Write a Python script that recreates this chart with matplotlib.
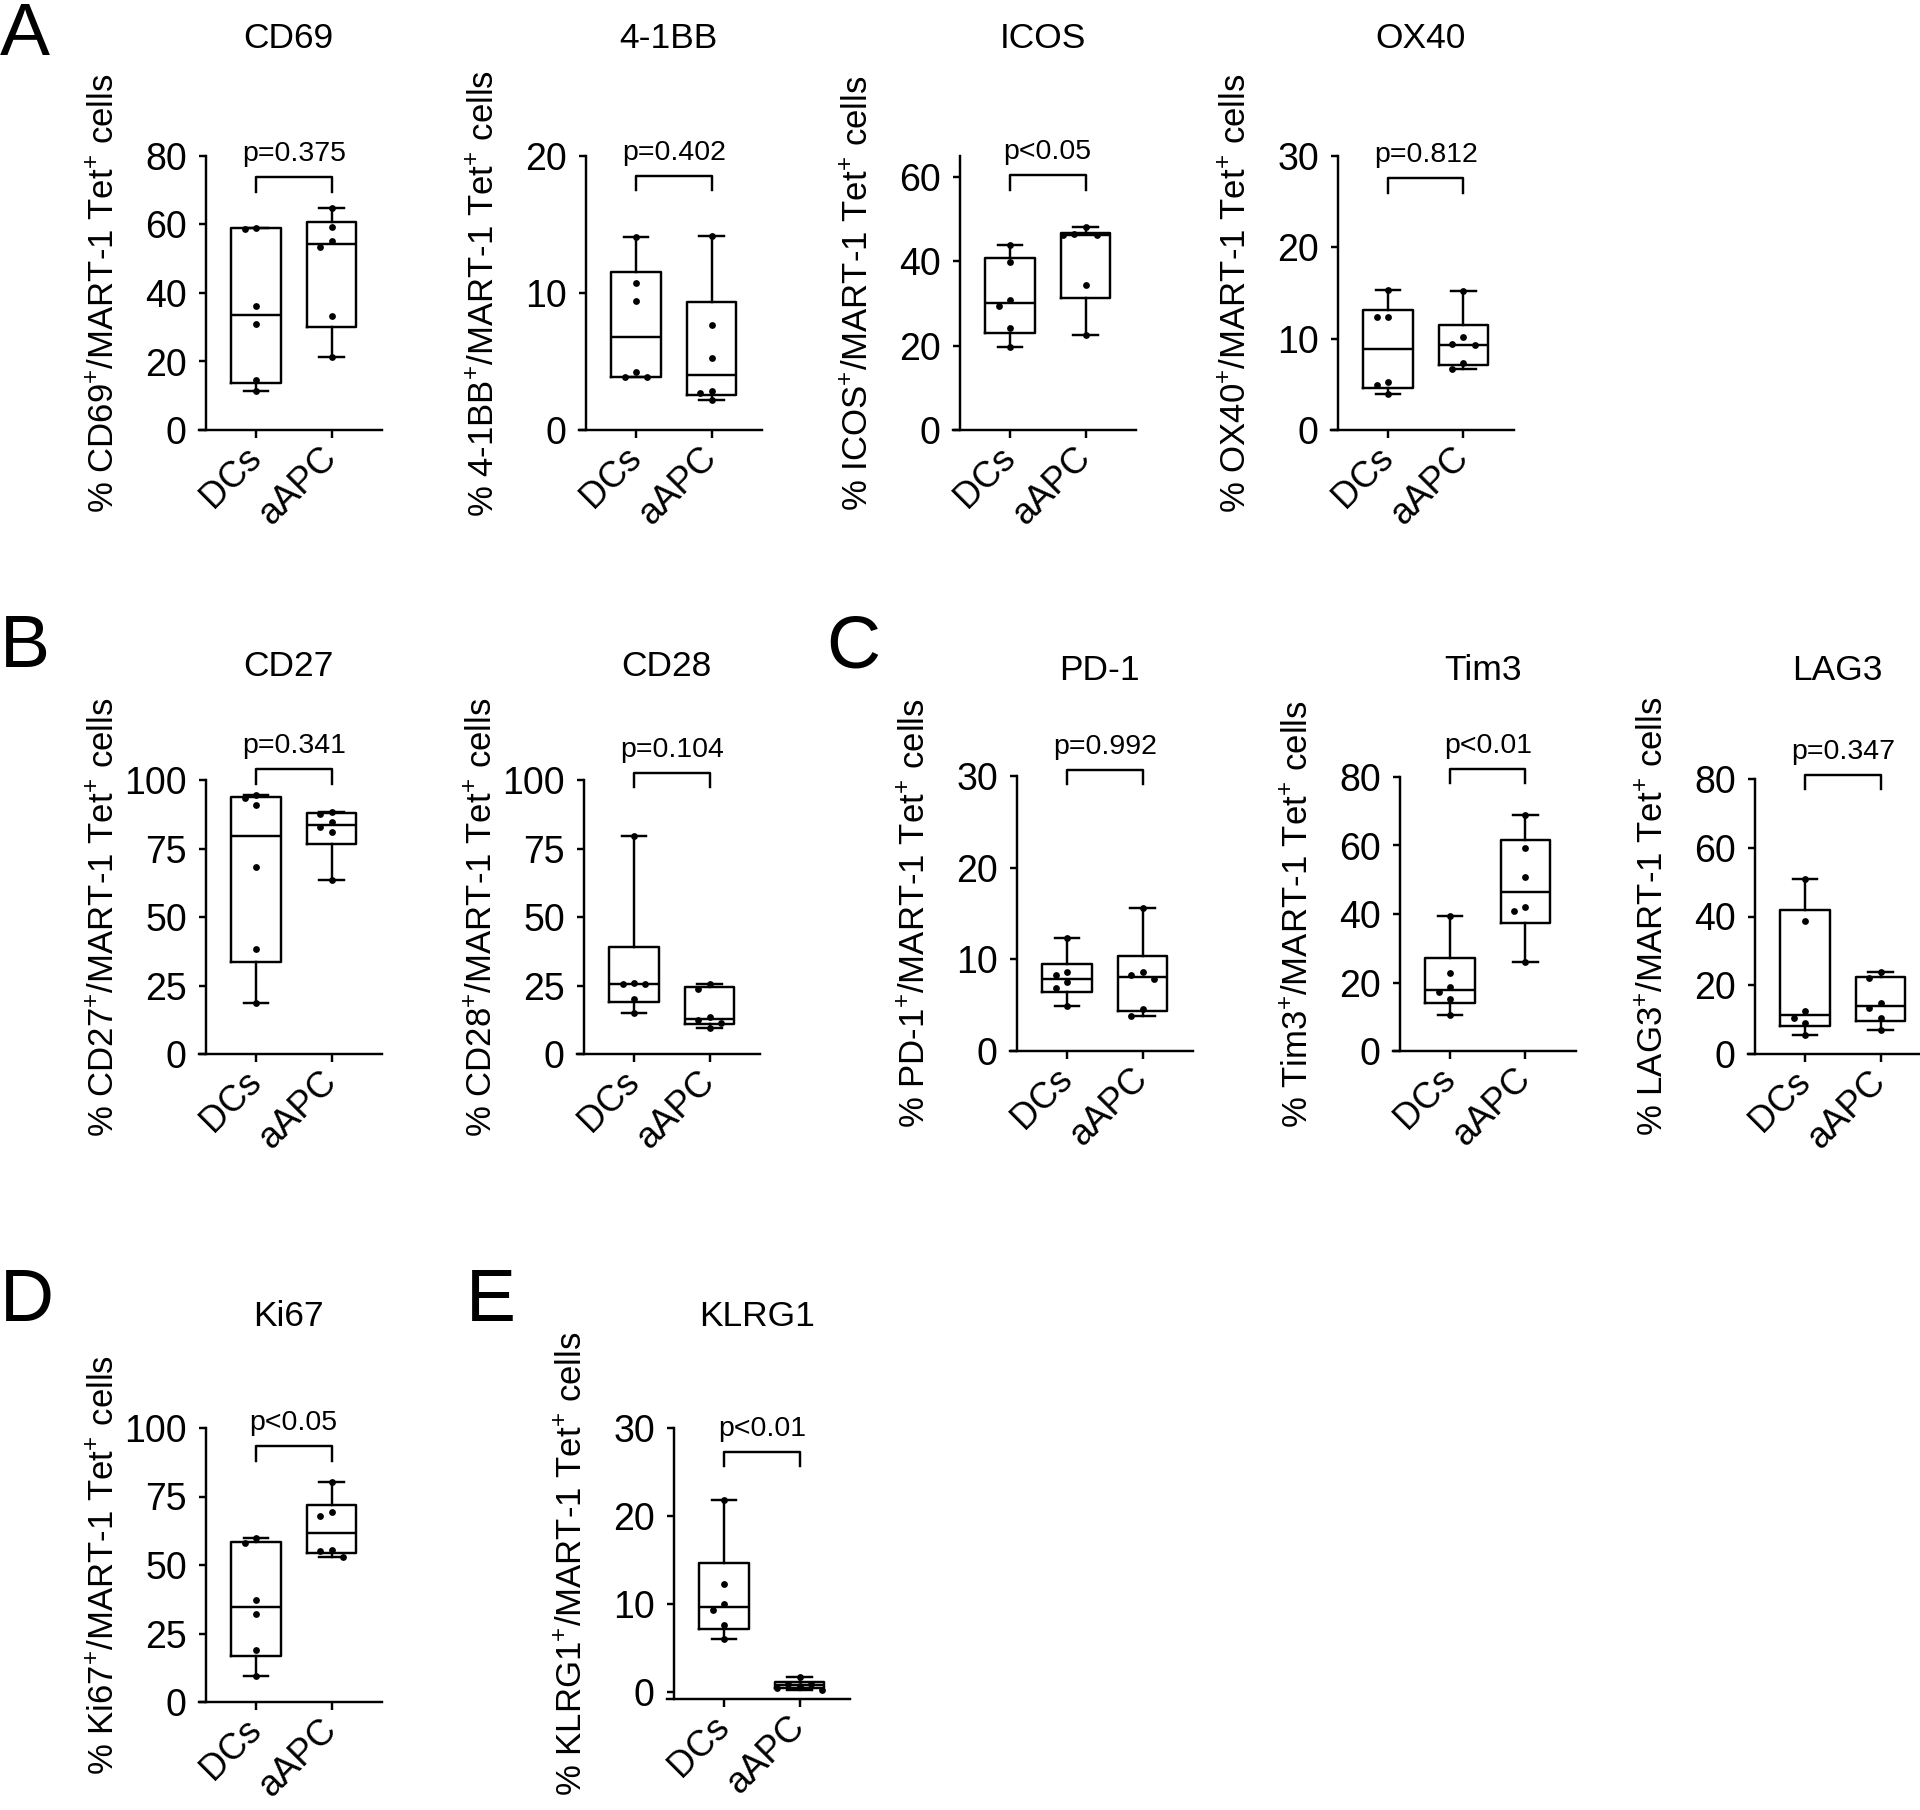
import matplotlib
matplotlib.use("Agg")
import matplotlib.pyplot as plt
import numpy as np

plt.rcParams['font.family'] = ['Liberation Sans', 'DejaVu Sans']
plt.rcParams['mathtext.fontset'] = 'custom'
plt.rcParams['mathtext.rm'] = 'Liberation Sans'

# ---- data ----
groups = ['DCs', 'aAPC']
markers = ['CD69', '4-1BB', 'ICOS', 'OX40', 'CD27', 'CD28',
           'PD-1', 'Tim3', 'LAG3', 'Ki67', 'KLRG1']
p_labels = ['p=0.375', 'p=0.402', 'p<0.05', 'p=0.812', 'p=0.341', 'p=0.104',
            'p=0.992', 'p<0.01', 'p=0.347', 'p<0.05', 'p<0.01']

cd69_dcs = [59.1, 58.8, 36.1, 30.9, 14.6, 11.5]
cd69_aapc = [64.9, 59.3, 55.1, 53.3, 33.2, 21.2]
bb_dcs = [14.1, 10.7, 9.4, 4.2, 3.9, 3.85]
bb_aapc = [14.15, 7.7, 5.25, 2.85, 2.7, 2.2]
icos_dcs = [43.8, 39.8, 30.8, 29.5, 24.2, 19.8]
icos_aapc = [48.1, 46.4, 46.3, 46.2, 34.3, 22.5]
ox40_dcs = [15.3, 12.4, 12.4, 5.3, 4.9, 3.9]
ox40_aapc = [15.2, 10.2, 9.4, 9.3, 7.3, 6.65]
cd27_dcs = [94.4, 93.6, 90.9, 68.3, 38.5, 18.5]
cd27_aapc = [88.3, 87.6, 84.6, 82.7, 81.1, 63.5]
cd28_dcs = [79.4, 25.8, 25.7, 25.6, 20.1, 15.0]
cd28_aapc = [25.7, 23.9, 13.4, 12.4, 11.2, 9.6]
pd1_dcs = [12.3, 8.6, 8.3, 7.5, 6.9, 4.9]
pd1_aapc = [15.65, 8.6, 8.3, 7.9, 4.6, 3.8]
tim3_dcs = [39.5, 22.9, 18.7, 17.1, 15.2, 10.5]
tim3_aapc = [68.8, 59.4, 50.8, 42.0, 41.0, 26.0]
lag3_dcs = [50.8, 38.8, 12.4, 10.4, 9.0, 5.4]
lag3_aapc = [24.0, 22.0, 14.7, 13.4, 10.4, 6.9]
ki67_dcs = [59.8, 58.1, 37.3, 32.2, 19.0, 9.6]
ki67_aapc = [80.2, 69.3, 68.0, 55.5, 55.0, 52.9]
klrg1_dcs = [21.8, 12.3, 10.0, 9.4, 7.6, 6.06]
klrg1_aapc = [1.7, 1.0, 0.9, 0.7, 0.5, 0.3]

panel_values = [(cd69_dcs, cd69_aapc), (bb_dcs, bb_aapc), (icos_dcs, icos_aapc),
                (ox40_dcs, ox40_aapc), (cd27_dcs, cd27_aapc), (cd28_dcs, cd28_aapc),
                (pd1_dcs, pd1_aapc), (tim3_dcs, tim3_aapc), (lag3_dcs, lag3_aapc),
                (ki67_dcs, ki67_aapc), (klrg1_dcs, klrg1_aapc)]

y_ticks = [[0, 20, 40, 60, 80], [0, 10, 20], [0, 20, 40, 60], [0, 10, 20, 30],
           [0, 25, 50, 75, 100], [0, 25, 50, 75, 100], [0, 10, 20, 30],
           [0, 20, 40, 60, 80], [0, 20, 40, 60, 80], [0, 25, 50, 75, 100],
           [0, 10, 20, 30]]
y_limits = [(0, 80), (0, 20), (0, 65), (0, 30), (0, 100), (0, 100), (0, 30),
            (0, 80), (0, 80), (0, 100), (-0.75, 30)]

# ---- layout (pixels in a 1920x1810 canvas) ----
W, H = 1920, 1810
UNIT = 75.5                    # px between the two categories
X_LO, X_HI, Y_SPINE = -0.76, 1.67, -0.66
dcs_px = [256, 636, 1010, 1388, 256, 634, 1067, 1450, 1805, 256, 724]
bottom_px = [430, 430, 430, 430, 1054, 1054, 1051, 1051, 1054, 1702, 1699]
top_px = [156, 156, 156, 156, 780, 780, 776, 777, 779, 1428, 1428]
bracket_y = [0.923, 0.928, 0.929, 0.919, 1.039, 1.026, 1.023, 1.03, 1.016, 0.934, 0.912]
title_gap = [117, 117, 117, 117, 114, 114, 106, 106, 108, 112, 112]
letters = [('A', 0, 55), ('B', 0, 667), ('C', 826, 667), ('D', 0, 1321), ('E', 466, 1321)]

LW = 1.75
TICK_LEN = 5.4


def spread(vals, span):
    # small horizontal offsets so that close points do not overlap
    vals = np.asarray(vals, dtype=float)
    offs = np.zeros(len(vals))
    steps = [0.0, -0.15, 0.15, -0.3, 0.3]
    placed = []
    for i in np.argsort(vals)[::-1]:
        taken = {offs[j] for j in placed if abs(vals[j] - vals[i]) < span}
        for s in steps:
            if s not in taken:
                offs[i] = s
                break
        placed.append(i)
    return offs


fig = plt.figure(figsize=(W / 100, H / 100), dpi=100)

for k, name in enumerate(markers):
    left = dcs_px[k] + X_LO * UNIT
    width = (X_HI - X_LO) * UNIT
    h_px = bottom_px[k] - top_px[k]
    ax = fig.add_axes([left / W, 1 - bottom_px[k] / H, width / W, h_px / H])
    ax.patch.set_alpha(0)

    stats = []
    for vals in panel_values[k]:
        q1, med, q3 = np.percentile(vals, [25, 50, 75], method='weibull')
        stats.append(dict(med=med, q1=q1, q3=q3, whislo=min(vals),
                          whishi=max(vals), fliers=[]))
    line = dict(color='black', linewidth=LW)
    ax.bxp(stats, positions=[0, 1], widths=0.65, capwidths=0.33, showfliers=False,
           boxprops=line, whiskerprops=line, capprops=line, medianprops=line)

    lo, hi = y_limits[k]
    for pos, vals in enumerate(panel_values[k]):
        offs = spread(vals, 0.03 * (hi - lo))
        ax.scatter(pos + offs, vals, s=24, color='black', zorder=3, linewidths=0)

    ax.set_xlim(X_LO, X_HI)
    ax.set_ylim(lo, hi)
    ax.set_yticks(y_ticks[k])
    ax.set_xticks([0, 1])
    ax.set_xticklabels(groups, rotation=45, ha='right', va='center',
                       rotation_mode='anchor')
    ax.tick_params(axis='x', length=TICK_LEN, width=LW, pad=11, labelsize=26)
    ax.tick_params(axis='y', length=TICK_LEN, width=LW, pad=8.5, labelsize=27)
    for side in ['top', 'right']:
        ax.spines[side].set_visible(False)
    ax.spines['left'].set_position(('data', Y_SPINE))
    ax.spines['left'].set_linewidth(LW)
    ax.spines['bottom'].set_linewidth(LW)

    ax.set_ylabel(f'% {name}$^{{\\mathregular{{+}}}}$/MART-1 Tet$^{{\\mathregular{{+}}}}$ cells',
                  fontsize=25)
    ax.yaxis.set_label_coords((Y_SPINE - X_LO) / (X_HI - X_LO) - 86 / width, 0.5)

    trans = ax.get_xaxis_transform()
    by = bracket_y[k]
    drop = 14.5 / h_px
    ax.plot([0, 0, 1, 1], [by - drop, by, by, by - drop], transform=trans,
            color='black', linewidth=LW, clip_on=False)
    ax.text(0.5, by + 23 / h_px, p_labels[k], transform=trans,
            ha='center', va='center', fontsize=20.5)
    ax.text(0.5 - 5 / UNIT, 1 + title_gap[k] / h_px, name, transform=trans,
            ha='center', va='center', fontsize=25.5)

for letter, x, base in letters:
    fig.text(x / W, 1 - base / H, letter, fontsize=54, ha='left', va='baseline')

fig.savefig('out.png', dpi=100)
